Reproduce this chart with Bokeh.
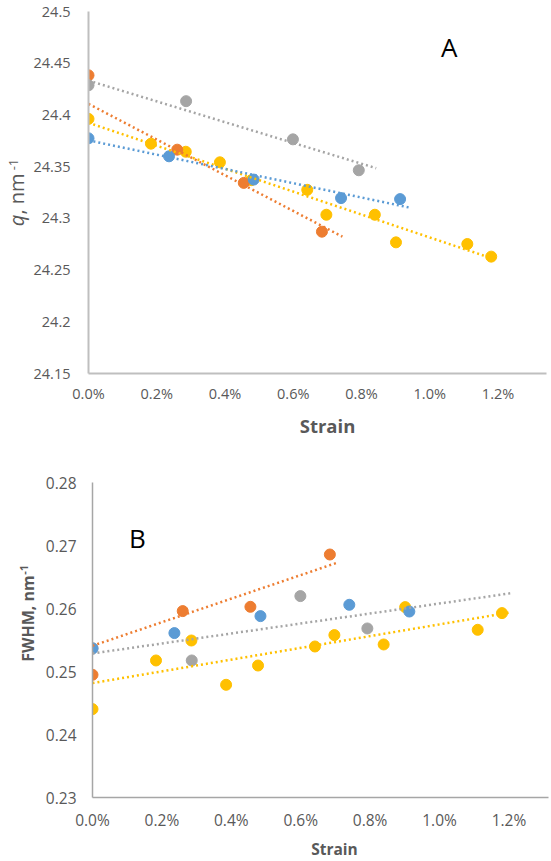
import math
from bokeh.plotting import figure
from bokeh.models import Label, FixedTicker, CustomJSTickFormatter, Range1d
from bokeh.layouts import column, row
from bokeh.embed import file_html
from bokeh.resources import INLINE

# ---------------- data (strain in %) ----------------
strain_blue = [0.0, 0.236, 0.484, 0.740, 0.913]
strain_orange = [0.0, 0.260, 0.455, 0.684]
strain_gray = [0.0, 0.286, 0.599, 0.792]
strain_yellow = [0.0, 0.183, 0.285, 0.385, 0.477, 0.641, 0.697, 0.839, 0.901, 1.110, 1.180]

# Panel A: q, nm-1
q_blue = [24.3774, 24.3600, 24.3375, 24.3196, 24.3186]
q_orange = [24.4383, 24.3664, 24.3343, 24.2871]
q_gray = [24.4287, 24.4133, 24.3764, 24.3465]
q_yellow = [24.3962, 24.3722, 24.3644, 24.3542, 24.3369, 24.3276, 24.3035, 24.3035, 24.2768, 24.2752, 24.2630]

# Panel A trend lines (start/end)
qt_blue_x = [0.0, 0.944]
qt_blue_y = [24.3754, 24.3102]
qt_orange_x = [0.0, 0.744]
qt_orange_y = [24.4107, 24.2823]
qt_gray_x = [0.0, 0.843]
qt_gray_y = [24.4332, 24.3485]
qt_yellow_x = [0.0, 1.185]
qt_yellow_y = [24.3924, 24.2610]

# Panel B: FWHM, nm-1
w_blue = [0.25365, 0.25610, 0.25879, 0.26059, 0.25952]
w_orange = [0.24948, 0.25959, 0.26027, 0.26857]
w_gray = [0.25370, 0.25175, 0.26197, 0.25683]
w_yellow = [0.24403, 0.25175, 0.25492, 0.24789, 0.25095, 0.25397, 0.25578, 0.25429, 0.26022, 0.25662, 0.25927]

# Panel B trend lines (start/end)
wt_orange_x = [0.0, 0.702]
wt_orange_y = [0.25408, 0.26721]
wt_gray_x = [0.0, 1.208]
wt_gray_y = [0.25286, 0.26244]
wt_yellow_x = [0.0, 1.203]
wt_yellow_y = [0.24816, 0.25937]

x_ticks = [0.0, 0.2, 0.4, 0.6, 0.8, 1.0, 1.2]
qa_ticks = [24.15, 24.2, 24.25, 24.3, 24.35, 24.4, 24.45, 24.5]
wb_ticks = [0.23, 0.24, 0.25, 0.26, 0.27, 0.28]

BLUE = "#5B9BD5"
ORANGE = "#ED7D31"
GRAY = "#A5A5A5"
YELLOW = "#FFC000"
TXT = "#595959"
FONT = "Open Sans"


def base_fig(width, height, x_end, y_start, y_end, b_left, b_right, b_top, b_bottom,
             axis_color, axis_width, tick_size, x_standoff, y_standoff):
    p = figure(width=width, height=height,
               x_range=Range1d(0, x_end), y_range=Range1d(y_start, y_end),
               output_backend="svg", toolbar_location=None,
               min_border_left=b_left, min_border_right=b_right,
               min_border_top=b_top, min_border_bottom=b_bottom)
    p.grid.visible = False
    p.outline_line_color = None
    p.background_fill_color = "white"
    p.border_fill_color = "white"
    for ax in (p.xaxis[0], p.yaxis[0]):
        ax.axis_line_color = axis_color
        ax.axis_line_width = axis_width
        ax.major_tick_line_color = None
        ax.minor_tick_line_color = None
        ax.major_tick_out = 0
        ax.major_tick_in = 0
        ax.minor_tick_out = 0
        ax.minor_tick_in = 0
        ax.major_label_text_font = FONT
        ax.major_label_text_font_size = tick_size
        ax.major_label_text_color = TXT
    p.xaxis.major_label_standoff = x_standoff
    p.yaxis.major_label_standoff = y_standoff
    p.xaxis.ticker = FixedTicker(ticks=x_ticks)
    p.xaxis.formatter = CustomJSTickFormatter(code="return tick.toFixed(1) + '%';")
    return p


def strip(width, height):
    s = figure(width=width, height=height, x_range=Range1d(0, 1), y_range=Range1d(0, 1),
               x_axis_type=None, y_axis_type=None, output_backend="svg",
               toolbar_location=None, min_border=0)
    s.outline_line_color = None
    s.grid.visible = False
    s.background_fill_color = "white"
    s.border_fill_color = "white"
    return s


def add_label(p, x, y, text, size, style="normal", color=TXT, angle=0.0):
    p.add_layout(Label(x=x, y=y, x_units="screen", y_units="screen", text=text,
                       text_font=FONT, text_font_size=size, text_font_style=style,
                       text_color=color, angle=angle, text_align="center",
                       text_baseline="middle"))


# ---------------- Panel A ----------------
pa = base_fig(521, 410, 1.342, 24.15, 24.5, 56, 5, 11, 37, "#BFBFBF", 2, "14.5px", 10, 18)
pa.yaxis.ticker = FixedTicker(ticks=qa_ticks)
pa.yaxis.formatter = CustomJSTickFormatter(code="return String(Math.round(tick*100)/100);")

pa.scatter(strain_yellow, q_yellow, size=11, color=YELLOW)
pa.scatter(strain_orange, q_orange, size=11, color=ORANGE)
pa.scatter(strain_gray, q_gray, size=11, color=GRAY)
pa.scatter(strain_blue, q_blue, size=11, color=BLUE)
for tx, ty, c in ((qt_yellow_x, qt_yellow_y, YELLOW), (qt_orange_x, qt_orange_y, ORANGE),
                  (qt_gray_x, qt_gray_y, GRAY), (qt_blue_x, qt_blue_y, BLUE)):
    pa.line(tx, ty, line_color=c, line_width=2.5, line_dash="2 3")
add_label(pa, 360.7, 326.3, "A", "26px", color="black")

ya = strip(30, 410)
add_label(ya, 15.7, 153, "q", "20px", style="italic", angle=math.pi / 2)
add_label(ya, 15.7, 179.5, ", nm", "20px", angle=math.pi / 2)
add_label(ya, 12.5, 209, "-1", "13px", angle=math.pi / 2)

sa = strip(551, 45)
add_label(sa, 327, 30, "Strain", "18.5px", style="bold")

# ---------------- Panel B ----------------
pb = base_fig(511, 380, 1.314, 0.23, 0.28, 52, 3, 27, 38, "#A6A6A6", 1.5, "15.5px", 11, 16)
pb.yaxis.ticker = FixedTicker(ticks=wb_ticks)
pb.yaxis.formatter = CustomJSTickFormatter(code="return tick.toFixed(2);")

pb.scatter(strain_yellow, w_yellow, size=11, color=YELLOW)
pb.scatter(strain_orange, w_orange, size=11, color=ORANGE)
pb.scatter(strain_gray, w_gray, size=11, color=GRAY)
pb.scatter(strain_blue, w_blue, size=11, color=BLUE)
for tx, ty, c in ((wt_yellow_x, wt_yellow_y, YELLOW), (wt_orange_x, wt_orange_y, ORANGE),
                  (wt_gray_x, wt_gray_y, GRAY)):
    pb.line(tx, ty, line_color=c, line_width=2.5, line_dash="2 3")
add_label(pb, 45, 260, "B", "26px", color="black")

yb = strip(40, 380)
add_label(yb, 27.8, 179, "FWHM, nm", "16px", style="bold", angle=math.pi / 2)
add_label(yb, 23.7, 227.7, "-1", "11px", style="bold", angle=math.pi / 2)

sb = strip(551, 26)
add_label(sb, 334, 13, "Strain", "15.5px", style="bold")

layout = column(row(ya, pa, spacing=0), sa, row(yb, pb, spacing=0), sb, spacing=0)
open("out.html", "w").write(file_html(layout, INLINE))
